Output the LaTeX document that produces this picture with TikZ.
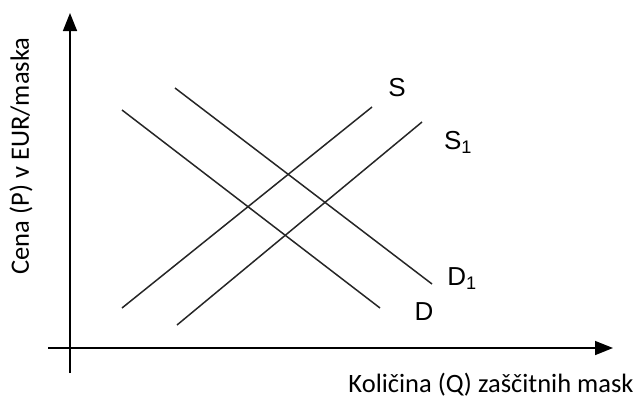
\documentclass[tikz,border=0pt]{standalone}
\usepackage{fontspec}
\setmainfont{Carlito}
\newfontfamily\arialfont{Liberation Sans}
\usetikzlibrary{arrows.meta}
\begin{document}
\begin{tikzpicture}[x=1pt,y=-1pt,
  axis/.style={line width=1.5pt,-{Triangle[length=18pt,width=14pt]}},
  curve/.style={line width=1.5pt,draw=black!85},
  cl/.style={font=\arialfont\fontsize{26}{30}\selectfont,inner sep=0pt},
  al/.style={font=\fontsize{26.5}{30}\selectfont,inner sep=0pt}]
\useasboundingbox (0,0) rectangle (644,399);
% axes
\coordinate (ybot) at (70,373);
\coordinate (ytop) at (70,13);
\coordinate (xleft) at (48,348);
\coordinate (xright) at (613,348);
\draw[axis] (ybot) -- (ytop);
\draw[axis] (xleft) -- (xright);
% lines
\coordinate (s0) at (122,308); \coordinate (s1) at (372,107);
\coordinate (t0) at (177,325); \coordinate (t1) at (422,122);
\coordinate (d0) at (122,110); \coordinate (d1) at (380,308);
\coordinate (e0) at (175,88);  \coordinate (e1) at (432,284);
\draw[curve] (s0) -- (s1);
\draw[curve] (t0) -- (t1);
\draw[curve] (d0) -- (d1);
\draw[curve] (e0) -- (e1);
% labels
\node[cl] (lS) at (397,88) {S};
\node[cl] (lS1) at (458,142) {S\textsubscript{1}};
\node[cl] (lD1) at (462,279) {D\textsubscript{1}};
\node[cl] (lD) at (424,312) {D};
\node[al,rotate=90] (ylab) at (21,156) {Cena (P) v EUR/maska};
\node[al] (xlab) at (491,385) {Količina (Q) zaščitnih mask};
\end{tikzpicture}
\end{document}
